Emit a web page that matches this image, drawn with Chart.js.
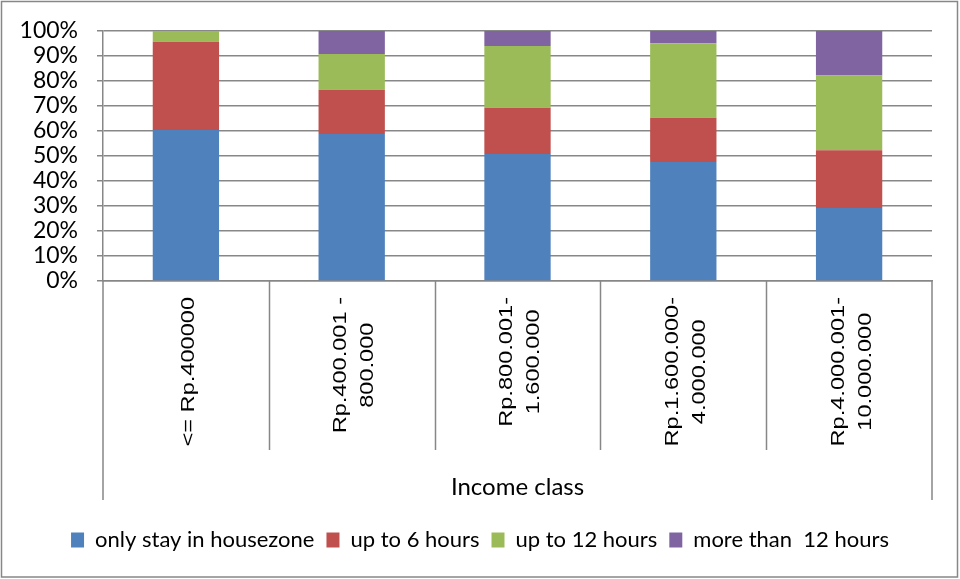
<!DOCTYPE html>
<html>
<head>
<meta charset="utf-8">
<title>Income class</title>
<script src="https://cdn.jsdelivr.net/npm/chart.js@4/dist/chart.umd.min.js"></script>
<style>
    body { margin: 0; background: #ffffff; }
    canvas { display: block; }
</style>
</head>
<body>
<canvas id="incomeChart" width="960" height="579"></canvas>
<script>
// income classes, one array per label (each entry is a line of the label)
const incomeClasses = [
    ['<= Rp.400000'],
    ['Rp.400.001 -', '800.000'],
    ['Rp.800.001-', '1.600.000'],
    ['Rp.1.600.000-', '4.000.000'],
    ['Rp.4.000.001-', '10.000.000']
];

// share of respondents (%) per class
const onlyHouseZone = [60.4, 58.8, 50.8, 47.6, 29.2];
const upTo6Hours    = [35.3, 17.7, 18.5, 17.7, 23.1];
const upTo12Hours   = [4.3, 14.3, 24.7, 29.8, 29.9];
const moreThan12    = [0, 9.2, 6.0, 4.9, 17.8];

const yTicks = [0, 10, 20, 30, 40, 50, 60, 70, 80, 90, 100];

const gridGrey  = '#878787';
const uiFont    = 'Lato, "Open Sans", sans-serif';
const labelFont = '18px "Liberation Sans", Arial, sans-serif';

// rotated category labels are drawn a bit stretched along the text
const labelStretch = 1.31;
const labelTop     = 297;
const labelLineGap = 27;

// frame, category separators and rotated income labels
const excelFrame = {
    id: 'excelFrame',
    afterDraw(chart) {
        const { ctx, chartArea } = chart;
        const xs = chart.scales.x;

        ctx.save();
        ctx.strokeStyle = gridGrey;
        ctx.lineWidth = 1.5;

        // outer border
        ctx.strokeRect(1.5, 1.5, chart.width - 4, chart.height - 3.5);

        ctx.beginPath();
        // outer lines of the category table
        ctx.moveTo(chartArea.left, chartArea.bottom);
        ctx.lineTo(chartArea.left, 500);
        ctx.moveTo(chartArea.right, chartArea.bottom);
        ctx.lineTo(chartArea.right, 500);
        // separators between categories
        for (let i = 0; i < incomeClasses.length - 1; i++) {
            const sx = Math.round((xs.getPixelForValue(i) + xs.getPixelForValue(i + 1)) / 2) + 0.5;
            ctx.moveTo(sx, chartArea.bottom);
            ctx.lineTo(sx, 450);
        }
        ctx.stroke();

        // rotated labels, lines centred on each other
        ctx.font = labelFont;
        ctx.fillStyle = '#000000';
        ctx.textAlign = 'center';
        ctx.textBaseline = 'middle';
        xs.getLabels().forEach((lines, i) => {
            const cx = xs.getPixelForValue(i) + 3;
            const span = Math.max(...lines.map(l => ctx.measureText(l).width * labelStretch));
            const cy = labelTop + span / 2;
            lines.forEach((line, j) => {
                ctx.save();
                ctx.translate(cx + (j - (lines.length - 1) / 2) * labelLineGap, cy);
                ctx.rotate(-Math.PI / 2);
                ctx.scale(labelStretch, 1);
                ctx.fillText(line, 0, 0);
                ctx.restore();
            });
        });
        ctx.restore();
    }
};

const ctx = document.getElementById('incomeChart').getContext('2d');

new Chart(ctx, {
    type: 'bar',
    data: {
        labels: incomeClasses,
        datasets: [
            { label: 'only stay in housezone', data: onlyHouseZone, backgroundColor: '#4F81BD' },
            { label: 'up to 6 hours',          data: upTo6Hours,    backgroundColor: '#C0504D' },
            { label: 'up to 12 hours',         data: upTo12Hours,   backgroundColor: '#9BBB59' },
            { label: 'more than  12 hours',    data: moreThan12,    backgroundColor: '#8064A2' }
        ]
    },
    options: {
        responsive: false,
        animation: false,
        datasets: {
            bar: { barPercentage: 0.4, categoryPercentage: 1.0, borderWidth: 0 }
        },
        layout: {
            padding: { top: 31, left: 0, right: 0, bottom: 18 }
        },
        scales: {
            x: {
                stacked: true,
                grid: { display: false },
                border: { display: true, color: gridGrey, width: 1.5 },
                ticks: { display: false },
                title: {
                    display: true,
                    text: 'Income class',
                    color: '#000000',
                    font: { family: uiFont, size: 24 },
                    padding: { top: 0, bottom: 15 }
                },
                afterFit(scale) { scale.height = 236; }
            },
            y: {
                stacked: true,
                min: 0,
                max: 100,
                afterBuildTicks(scale) {
                    scale.ticks = yTicks.map(v => ({ value: v }));
                },
                ticks: {
                    autoSkip: false,
                    padding: 19,
                    color: '#000000',
                    font: { family: uiFont, size: 23, lineHeight: 1 },
                    callback: v => v + '%'
                },
                grid: { color: gridGrey, lineWidth: 1.5, tickLength: 6 },
                border: { display: true, color: gridGrey, width: 1.5 },
                afterFit(scale) { scale.width = 103; }
            },
            // keeps room on the right side of the plot
            rightGap: {
                type: 'linear',
                position: 'right',
                grid: { display: false },
                border: { display: false },
                ticks: { display: false },
                afterFit(scale) { scale.width = 28; }
            }
        },
        plugins: {
            legend: {
                position: 'bottom',
                labels: {
                    color: '#000000',
                    font: { family: uiFont, size: 22 },
                    boxWidth: 13,
                    boxHeight: 15,
                    padding: 12
                }
            },
            tooltip: { enabled: false }
        }
    },
    plugins: [excelFrame]
});
</script>
</body>
</html>
